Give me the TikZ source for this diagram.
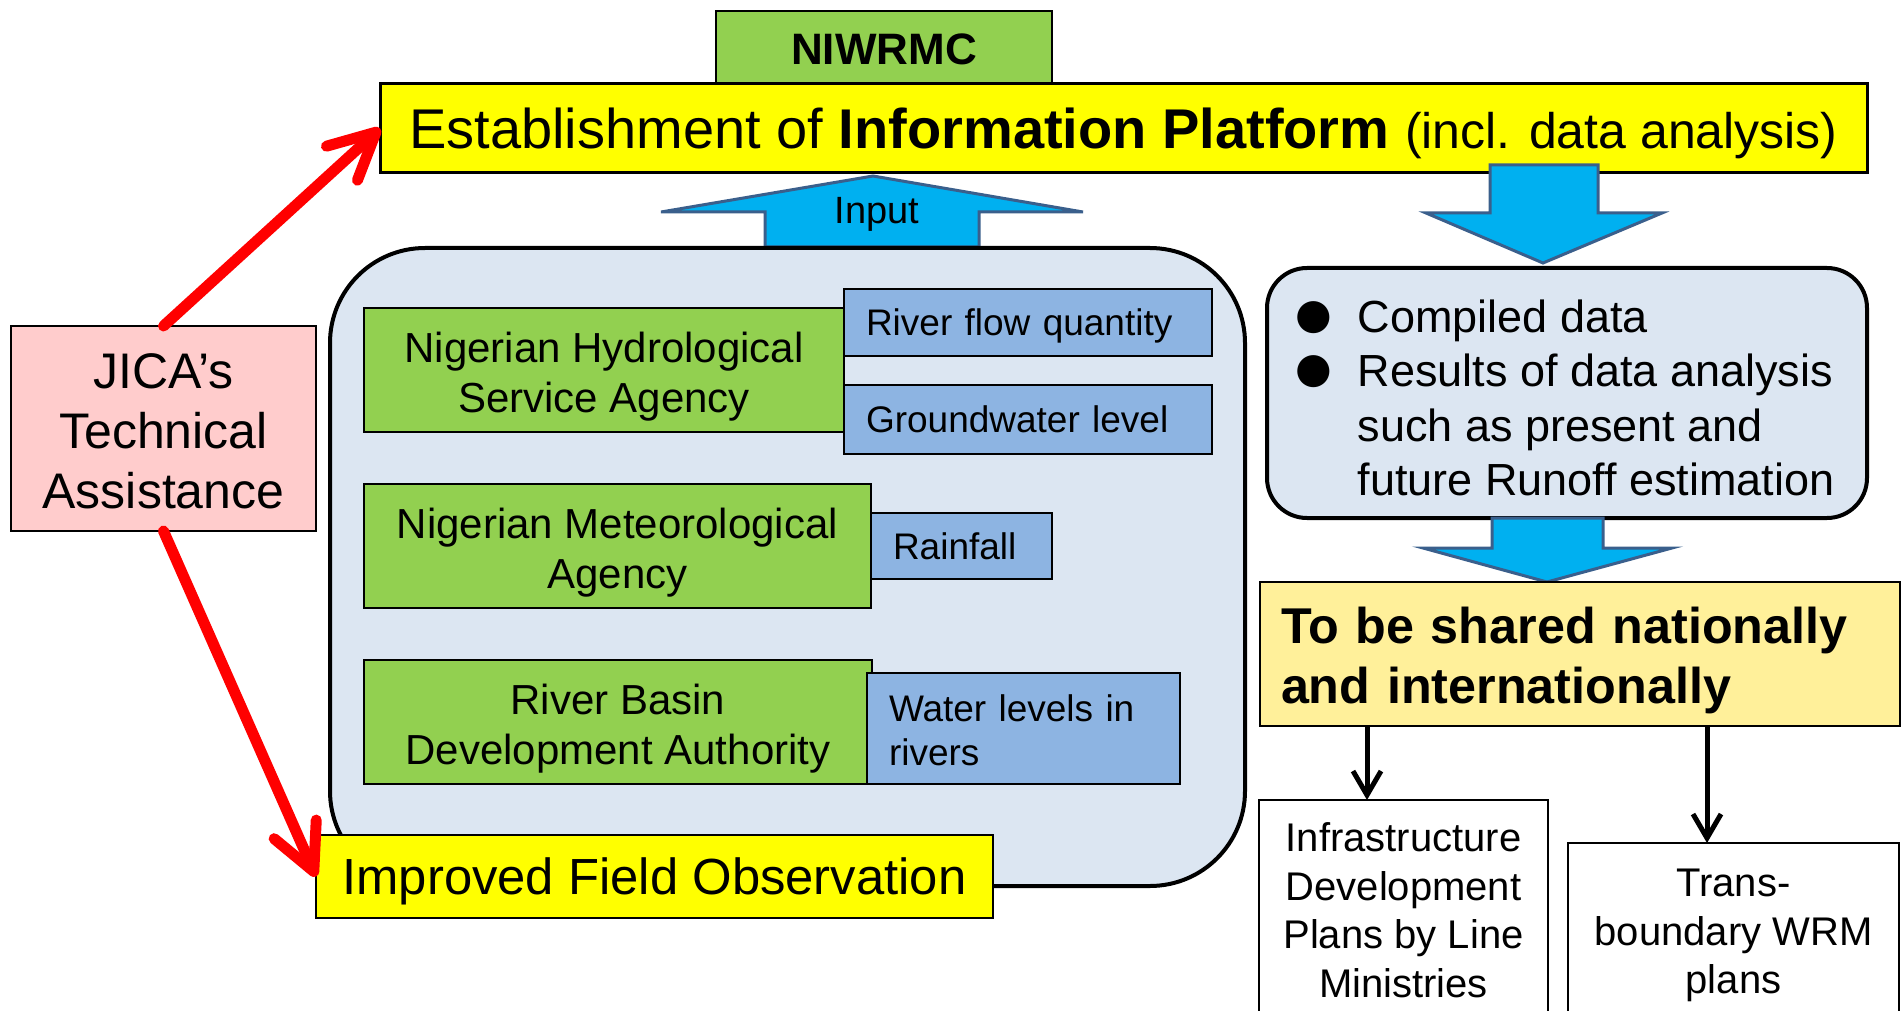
\documentclass[tikz,border=0pt]{standalone}
\usepackage{fontspec}
\setmainfont{Liberation Sans}
\newfontfamily\bulletfam{DejaVu Sans}
\usetikzlibrary{arrows.meta}
\definecolor{pinkbg}{HTML}{FFCCCC}
\definecolor{grn}{HTML}{92D050}
\definecolor{bluebx}{HTML}{8DB4E2}
\definecolor{panelbg}{HTML}{DCE6F2}
\definecolor{yel}{HTML}{FFFF00}
\definecolor{lyel}{HTML}{FFF09A}
\definecolor{arrfill}{HTML}{00B0F0}
\definecolor{arredge}{HTML}{3A5F8C}
\definecolor{redarr}{HTML}{FF0000}
\newcommand\mybullet{\llap{\raisebox{4pt}{\bulletfam\fontsize{42}{42}\selectfont ●}\hspace{25pt}}}
\newcommand\topstrut[1]{\rule{0pt}{#1}}
\begin{document}
\begin{tikzpicture}[x=1pt,y=-1pt,
  every node/.style={inner sep=0pt,outer sep=0pt},
  rectbox/.style={draw=black,line width=2pt,anchor=north west},
  greenbox/.style={rectbox,fill=grn,align=center,font=\fontsize{42}{50}\selectfont},
  bluebox/.style={rectbox,fill=bluebx,align=left,inner xsep=22pt,font=\fontsize{37}{44}\selectfont},
  panelbox/.style={draw=black,line width=4pt,fill=panelbg,anchor=north west},
  blockarrow/.style={fill=arrfill,draw=arredge,line width=3pt,line join=miter},
  redarrow/.style={draw=redarr,line width=11pt,line cap=round,-{Straight Barb[length=46pt,width=46pt,round]}},
  blkarrow/.style={draw=black,line width=5pt,-{Straight Barb[length=24pt,width=28pt]}}
]
\useasboundingbox (0,0) rectangle (1904,1011);
\clip (0,0) rectangle (1904,1011);

% top
\node[rectbox,fill=grn,minimum width=336pt,minimum height=75pt,font=\bfseries\fontsize{44}{53}\selectfont,text height=31.5pt,text depth=0pt] (niwrmc) at (716,11) {NIWRMC};
\node[rectbox,fill=yel,line width=3pt,minimum width=1487pt,minimum height=89pt,font=\fontsize{56}{67}\selectfont,text height=40pt,text depth=0pt] (estab) at (380,84) {Establishment of \textbf{Information Platform} {\fontsize{50}{60}\selectfont(incl. data analysis)}};

% block arrows
\draw[blockarrow] (1490,165) -- (1598,165) -- (1598,213) -- (1662,213) -- (1543,263) -- (1426,213) -- (1490,213) -- cycle;
\draw[blockarrow] (765,247) -- (765,212) -- (661,212) -- (873,176) -- (1083,212) -- (979,212) -- (979,247) -- cycle;
\node[font=\fontsize{38}{45}\selectfont] (inputlbl) at (877,214) {Input};

% left panel
\node[panelbox,rounded corners=95pt,minimum width=915pt,minimum height=638pt] (lpanel) at (330,248) {};
\node[greenbox,minimum width=480pt,minimum height=124pt] (nhsa) at (364,308) {\topstrut{43pt}Nigerian Hydrological\\Service Agency};
\node[bluebox,minimum width=368pt,minimum height=67pt,text width=324pt,text height=26.5pt,text depth=0pt] (rfq) at (844,289) {River flow quantity};
\node[bluebox,minimum width=368pt,minimum height=69pt,text width=324pt,text height=25pt,text depth=0pt] (gwl) at (844,385) {Groundwater level};
\node[greenbox,minimum width=507pt,minimum height=124pt] (nimet) at (364,484) {\topstrut{43pt}Nigerian Meteorological\\Agency};
\node[bluebox,minimum width=181pt,minimum height=66pt,text width=137pt,text height=26.5pt,text depth=0pt] (rain) at (871,513) {Rainfall};
\node[greenbox,minimum width=508pt,minimum height=124pt] (rbda) at (364,660) {\topstrut{43pt}River Basin\\Development Authority};
\node[bluebox,minimum width=313pt,minimum height=111pt,text width=269pt] (wlr) at (867,673) {\topstrut{31pt}Water levels in\\rivers};
\node[rectbox,fill=yel,minimum width=677pt,minimum height=83pt,font=\fontsize{50.8}{61}\selectfont,text height=36pt,text depth=0pt] (ifo) at (316,835) {Improved Field Observation};

% JICA
\node[rectbox,fill=pinkbg,minimum width=305pt,minimum height=205pt,align=center,font=\fontsize{50}{60}\selectfont] (jica) at (11,326) {\topstrut{40pt}JICA’s\\Technical\\Assistance};

% right panel
\node[panelbox,rounded corners=40pt,minimum width=600pt,minimum height=250pt] (rpanel) at (1267,268) {};
\node[anchor=west,align=left,font=\fontsize{45}{54.5}\selectfont] (rtext) at (1357.5,398) {\mybullet Compiled data\\\mybullet Results of data analysis\\such as present and\\future Runoff estimation};
\draw[blockarrow] (1492,518) -- (1603,518) -- (1603,548) -- (1672,548) -- (1547,582) -- (1423,548) -- (1492,548) -- cycle;
\node[rectbox,fill=lyel,minimum width=640pt,minimum height=144pt,text width=598pt,inner xsep=21pt,align=left,font=\bfseries\fontsize{50.3}{60}\selectfont] (share) at (1260,582) {\topstrut{49pt}To be shared nationally\\and internationally};

% bottom boxes
\node[rectbox,fill=white,minimum width=289pt,minimum height=220pt,align=center,font=\fontsize{40}{48.5}\selectfont] (infra) at (1259,800) {Infrastructure\\Development\\Plans by Line\\Ministries};
\node[rectbox,fill=white,minimum width=331pt,minimum height=185pt,align=center,font=\fontsize{40}{48.5}\selectfont] (tb) at (1568,843) {Trans-\\boundary WRM\\plans};
\coordinate (c1) at (1367,0);
\coordinate (c2) at (1707,0);
\draw[blkarrow] (share.south -| c1) -- (infra.north -| c1);
\draw[blkarrow] (share.south -| c2) -- (tb.north -| c2);

% red arrows
\draw[redarrow] (jica.north) -- (estab.west);
\draw[redarrow] (jica.south) -- (ifo.west);
\end{tikzpicture}
\end{document}
